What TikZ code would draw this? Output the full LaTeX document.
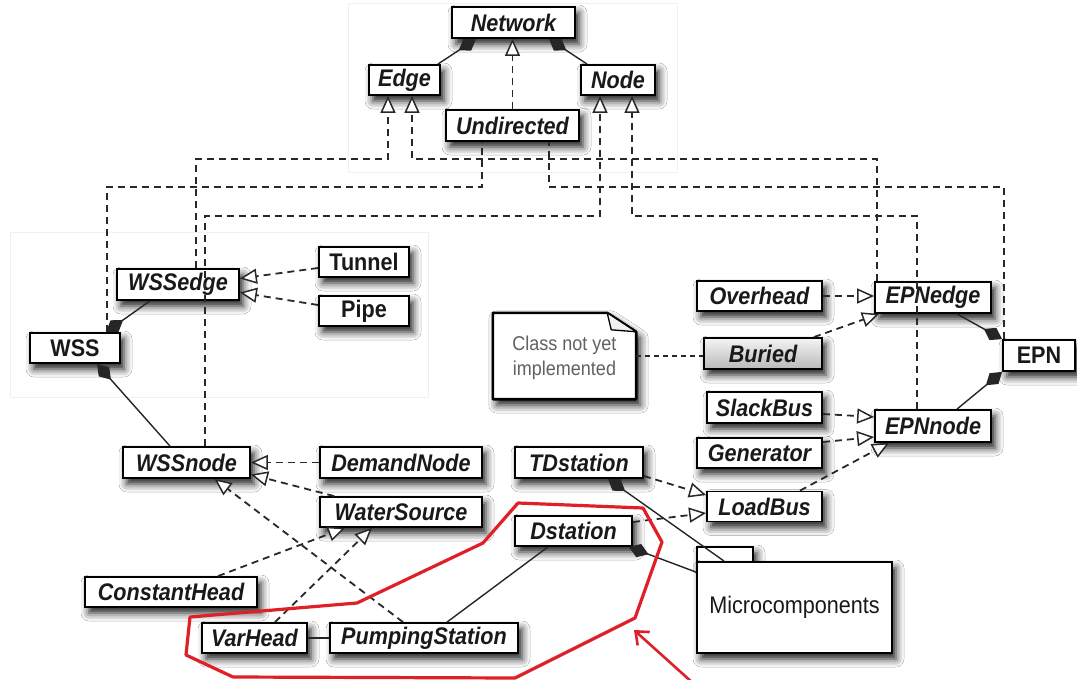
\documentclass[tikz,border=0pt]{standalone}
\usepackage{fontspec}
\newfontfamily\umlfont[FakeStretch=0.9]{Liberation Sans}
\usetikzlibrary{arrows.meta,shadows.blur,calc}

\definecolor{loopred}{RGB}{224,32,40}
\definecolor{dashgray}{RGB}{40,40,40}

\begin{document}
\begin{tikzpicture}[x=1pt,y=-1pt,
  boxshadow/.style={blur shadow={shadow xshift=4pt,shadow yshift=-6pt,shadow blur radius=8pt,shadow opacity=90}},
  cls/.style={draw=black,line width=1.8pt,fill=white,inner sep=0pt,minimum height=30pt,
    text=black!90,font=\umlfont\bfseries\itshape\fontsize{24}{26}\selectfont,boxshadow},
  ucls/.style={cls,font=\umlfont\bfseries\fontsize{24}{26}\selectfont},
  gen/.style={draw=dashgray,line width=1.8pt,dash pattern=on 7pt off 5pt,
    arrows={-Triangle[open,length=17pt,width=15pt,fill=white,line width=1.5pt]}},
  real/.style={draw=dashgray,line width=1.8pt,dash pattern=on 7pt off 5pt},
  compo/.style={draw=black!85,line width=1.4pt,arrows={Diamond[length=21pt,width=14pt]-}},
  assoc/.style={draw=black!85,line width=1.4pt},
  dotline/.style={draw=black!85,line width=2.8pt,dash pattern=on 5pt off 4pt},
  faint/.style={draw=gray!12,line width=0.8pt},
  loopline/.style={draw=loopred,line width=3.2pt,line join=round},
  looparrow/.style={draw=loopred,line width=2.6pt,arrows={-Straight Barb[length=11pt,width=18pt]}}
]
\useasboundingbox (0,0) rectangle (1077,680);
\fill[white] (0,0) rectangle (1077,680);

% faint package frames
\draw[faint] (348,3) rectangle (677,172);
\draw[faint] (10,232) rectangle (428,397);

% generic network classes
\node[cls,minimum width=123pt,minimum height=31pt] (network) at (513.5,22.5) {Network};
\node[cls,minimum width=71pt] (edge) at (404.5,80) {Edge};
\node[cls,minimum width=74pt] (nodecls) at (618,80) {Node};
\node[cls,minimum width=133pt,minimum height=31pt] (undirected) at (512.5,125.5) {Undirected};

% water supply system
\node[cls,minimum width=122pt,minimum height=31pt] (wssedge) at (178,284.5) {WSSedge};
\node[ucls,minimum width=90pt] (tunnel) at (364,262) {Tunnel};
\node[ucls,minimum width=90pt] (pipe) at (364,311) {Pipe};
\node[ucls,minimum width=90pt] (wss) at (75,348) {WSS};
\node[cls,minimum width=127pt,minimum height=31pt] (wssnode) at (186.5,462.5) {WSSnode};
\node[cls,minimum width=162pt,minimum height=31pt] (demand) at (401,462.5) {DemandNode};
\node[cls,minimum width=162pt] (source) at (401,512) {WaterSource};
\node[cls,minimum width=172pt] (consthead) at (171,592) {ConstantHead};
\node[cls,minimum width=105pt] (varhead) at (254.5,638) {VarHead};
\node[cls,minimum width=188pt] (pumping) at (424,638) {PumpingStation};
\node[cls,minimum width=128pt,minimum height=31pt] (tdstation) at (579,462.5) {TDstation};
\node[cls,minimum width=117pt] (dstation) at (573.5,531) {Dstation};

% electric power network
\node[cls,minimum width=125pt] (overhead) at (759.5,296) {Overhead};
\node[cls,minimum width=116pt,minimum height=31pt] (epnedge) at (933,297.5) {EPNedge};
\node[cls,minimum width=118pt,minimum height=31pt,top color=gray!8,bottom color=gray!55] (buried) at (763,353.5) {Buried};
\node[ucls,minimum width=72pt,minimum height=31pt] (epn) at (1039,355.5) {EPN};
\node[cls,minimum width=115pt,minimum height=31pt] (slackbus) at (764.5,407.5) {SlackBus};
\node[cls,minimum width=116pt,minimum height=32pt] (epnnode) at (933,426) {EPNnode};
\node[cls,minimum width=125pt] (generator) at (759.5,453) {Generator};
\node[cls,minimum width=115pt] (loadbus) at (764.5,506.5) {LoadBus};

% note with folded corner
\node[minimum width=143pt,minimum height=86pt,inner sep=0pt] (note) at (564.5,356) {};
\draw[line width=2.6pt,fill=white,line join=round,boxshadow]
  (note.north west) -- ([xshift=-29pt]note.north east) -- ([yshift=-19pt]note.north east)
  -- (note.south east) -- (note.south west) -- cycle;
\draw[line width=1.3pt,fill=gray!12,line join=round]
  ([xshift=-29pt]note.north east) -- ([xshift=-25pt,yshift=-17pt]note.north east)
  -- ([yshift=-19pt]note.north east) -- cycle;
\node[align=center,text=black!62,inner sep=0pt,font=\umlfont\fontsize{20}{25}\selectfont]
  (notetext) at ([yshift=-2pt]note.center) {Class not yet\\implemented};

% package
\node[draw=black,line width=1.8pt,fill=white,inner sep=0pt,minimum width=56pt,minimum height=15pt,boxshadow]
  (microtab) at (725,554.5) {};
\node[draw=black,line width=1.8pt,fill=white,inner sep=0pt,minimum width=195pt,minimum height=91pt,boxshadow,
  text=black!90,font=\umlfont\fontsize{24}{26}\selectfont] (micro) at (794.5,607.5) {Microcomponents};

% routing levels of the long dashed links
\coordinate (busA) at (0,159);
\coordinate (busB) at (0,187);
\coordinate (busC) at (0,216);

% top level
\draw[compo] ([xshift=25pt]network.south west) -- ([xshift=-3pt]edge.north east);
\draw[compo] ([xshift=-27pt]network.south east) -- ([xshift=7pt]nodecls.north west);
\draw[gen] (undirected.north) -- (undirected.north |- network.south);

\draw[gen] ([xshift=18pt]wssedge.north) |- ([xshift=-16.5pt]edge.south |- busA) -- ([xshift=-16.5pt]edge.south);
\draw[gen] ([xshift=-56pt]epnedge.north) |- ([xshift=7.5pt]edge.south |- busA) -- ([xshift=7.5pt]edge.south);
\draw[real] ([xshift=32pt]wss.north) |- ([xshift=-30.5pt]undirected.south |- busB) -- ([xshift=-30.5pt]undirected.south);
\draw[real] ([xshift=-35pt]epn.north) |- ([xshift=36.5pt]undirected.south |- busB) -- ([xshift=36.5pt]undirected.south);
\draw[gen] ([xshift=18.5pt]wssnode.north) |- ([xshift=-18pt]nodecls.south |- busC) -- ([xshift=-18pt]nodecls.south);
\draw[gen] ([xshift=-16pt]epnnode.north) |- ([xshift=14pt]nodecls.south |- busC) -- ([xshift=14pt]nodecls.south);

% water supply links
\draw[compo] ([xshift=31pt]wss.north) -- ([xshift=-28pt]wssedge.south);
\draw[compo] ([xshift=22pt]wss.south) -- ([xshift=-16.5pt]wssnode.north);
\draw[gen] ([yshift=-6pt]tunnel.west) -- ([yshift=6pt]wssedge.east);
\draw[gen] ([yshift=6pt]pipe.west) -- ([yshift=-8pt]wssedge.east);
\draw[gen] (demand.west) -- (wssnode.east);
\draw[gen] ([xshift=15pt]source.north west) -- ([yshift=-12pt]wssnode.east);
\draw[gen] ([xshift=-21pt]pumping.north) -- ([xshift=28pt]wssnode.south);
\draw[gen] ([xshift=47pt]consthead.north) -- ([xshift=-56pt]source.south);
\draw[gen] ([xshift=20.5pt]varhead.north) -- ([xshift=-29pt]source.south);
\draw[assoc] (varhead.east) -- (pumping.west);
\draw[assoc] ([xshift=-25.5pt]dstation.south) -- ([xshift=23pt]pumping.north);

% power network links
\draw[compo] (epn.north west) -- ([xshift=24pt]epnedge.south);
\draw[compo] (epn.south west) -- ([xshift=24pt]epnnode.north);
\draw[gen] (overhead.east) -- (overhead.east -| epnedge.west);
\draw[gen] ([xshift=-9pt]buried.north east) -- ([xshift=5pt]epnedge.south west);
\draw[gen] ([yshift=-6.5pt]slackbus.east) -- ([yshift=9pt]epnnode.west);
\draw[gen] ([yshift=11pt]generator.east) -- ([yshift=-11pt]epnnode.west);
\draw[gen] ([xshift=35.5pt]loadbus.north) -- ([xshift=15pt]epnnode.south west);
\draw[gen] ([yshift=-13.5pt]tdstation.east) -- ([yshift=11.5pt]loadbus.west);
\draw[gen] ([yshift=9pt]dstation.east) -- ([yshift=-6.5pt]loadbus.west);
\draw[dotline] (note.east) -- (note.east -| buried.west);

% stations and microcomponents
\draw[compo] ([xshift=29pt]tdstation.south) -- ([xshift=28pt]micro.north west);
\draw[compo] ([xshift=-4pt]dstation.south east) -- ([yshift=-11pt]micro.north west);

% highlighted group
\draw[loopline] (518,503) -- (483,543) -- (357,603) -- (190,617) -- (186,655) -- (233,677)
  -- (515,678) -- (635,618) -- (662,542) -- (643,508) -- cycle;
\coordinate (looptip) at (634,630);
\coordinate (arrowfoot) at (694,684);
\draw[looparrow] (arrowfoot) -- (looptip);
\end{tikzpicture}
\end{document}
